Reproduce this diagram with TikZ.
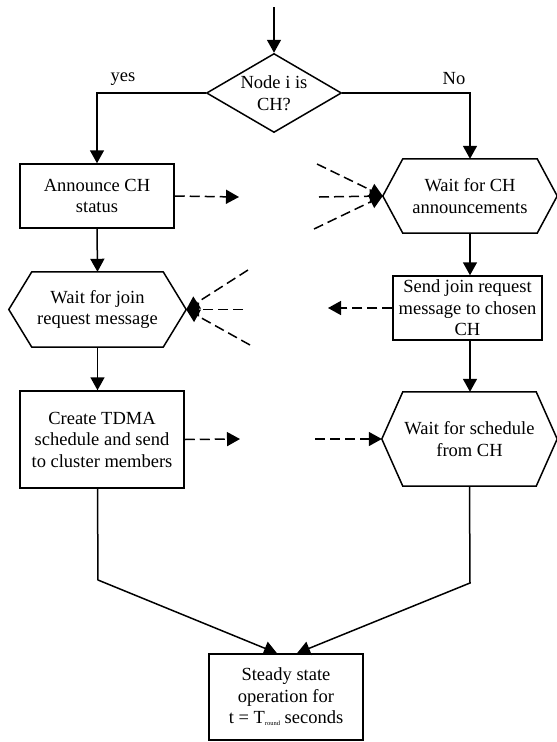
\documentclass[tikz,border=0pt]{standalone}
\usepackage{fontspec}
\setmainfont{Liberation Serif}
\usetikzlibrary{arrows.meta,shapes.geometric}
\newcommand{\hexframe}[2][20pt]{%
  \draw[frame] ([xshift=#1]#2.north west) -- ([xshift=-#1]#2.north east) -- (#2.east)
    -- ([xshift=-#1]#2.south east) -- ([xshift=#1]#2.south west) -- (#2.west) -- cycle;}
\begin{document}
\begin{tikzpicture}[x=1pt, y=-1pt,
    every node/.style={font=\fontsize{18.5}{21.5}\selectfont},
    frame/.style={line width=1.5pt},
    box/.style={draw, frame, align=center, inner sep=0pt},
    hexa/.style={align=center, inner sep=0pt},
    flow/.style={line width=1.5pt, -{Triangle[length=13pt,width=14pt]}},
    msg/.style={flow, dash pattern=on 10pt off 5pt}]
            \useasboundingbox (0,0) rectangle (557,742);
            \node[diamond, draw, frame, aspect=1.7, inner sep=0pt, minimum width=135pt, minimum height=79pt, align=center] (dec) at (274,93) {Node i is\\CH?};
            \node (yes) at (123,79) {yes};
            \node (no) at (454,79) {No};
            \node[box, minimum width=154pt, minimum height=64pt] (ann) at (97,196) {Announce CH\\status};
            \node[hexa, minimum width=174pt, minimum height=74pt] (wca) at (470,196) {Wait for CH\\announcements};
            \node[hexa, minimum width=177pt, minimum height=75pt] (wjr) at (97.5,309.5) {Wait for join\\request message};
            \node[box, minimum width=149pt, minimum height=64pt] (sjr) at (467.5,308) {Send join request\\message to chosen\\CH};
            \node[box, minimum width=164pt, minimum height=97pt] (tdma) at (102,439.5) {Create TDMA\\schedule and send\\to cluster members};
            \node[hexa, minimum width=175pt, minimum height=94pt] (wsc) at (469.5,439) {Wait for schedule\\from CH};
            \node[box, minimum width=154pt, minimum height=86pt] (st) at (286,697) {Steady state\\operation for\\t = T\raisebox{-2pt}{\fontsize{6.5}{7}\selectfont round} seconds};
            \hexframe{wca}
            \hexframe[23pt]{wjr}
            \hexframe[21pt]{wsc}
            \coordinate (start) at (274,7);
            \coordinate (a1) at (239,197);
            \coordinate (b1) at (317,164);
            \coordinate (b2) at (319,197);
            \coordinate (b3) at (314,229);
            \coordinate (c1) at (248,270);
            \coordinate (c2) at (243,309.5);
            \coordinate (c3) at (250,345);
            \coordinate (d1) at (328,308);
            \coordinate (e1) at (240,439);
            \coordinate (f1) at (315,439);
            \coordinate (bl) at (98,580);
            \coordinate (br) at (470,583);
            \draw[flow] (start) -- (dec.north);
            \draw[flow] (dec.west) -| (ann.north);
            \draw[flow] (dec.east) -| (wca.north);
            \draw[flow] (ann.south) -- (wjr.north);
            \draw[flow] (wjr.south) -- (wjr.south |- tdma.north);
            \draw[flow] (wca.south) -- (wca.south |- sjr.north);
            \draw[flow] (wca.south |- sjr.south) -- (wca.south |- wsc.north);
            \draw[flow] (wjr.south |- tdma.south) -- (bl) -- ([xshift=-9pt]st.north);
            \draw[flow] (wsc.south) -- (br) -- ([xshift=11pt]st.north);
            \draw[msg] (ann.east) -- (a1);
            \draw[msg] (b1) -- (wca.west);
            \draw[msg] (b2) -- (wca.west);
            \draw[msg] (b3) -- (wca.west);
            \draw[msg] (c1) -- (wjr.east);
            \draw[msg] (c2) -- (wjr.east);
            \draw[msg] (c3) -- (wjr.east);
            \draw[msg] (sjr.west) -- (d1);
            \draw[msg] (tdma.east) -- (e1);
            \draw[msg] (f1) -- (wsc.west);
        \end{tikzpicture}
\end{document}
